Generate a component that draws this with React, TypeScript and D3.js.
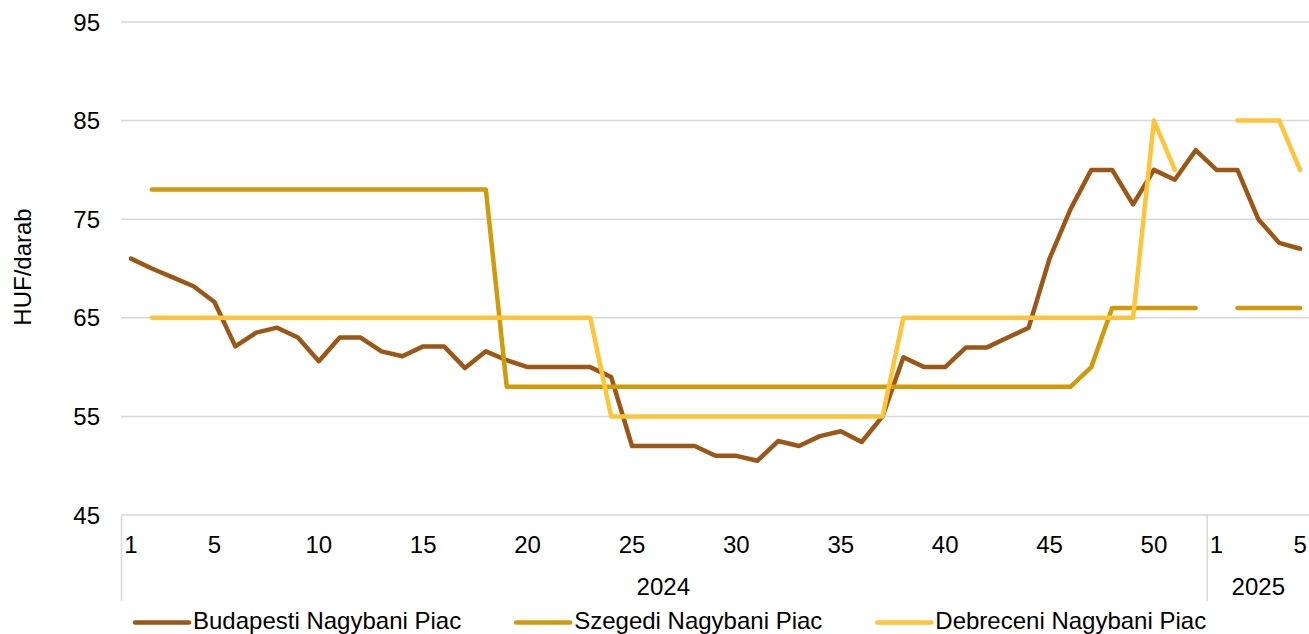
import React, { useEffect, useRef } from 'react';
import * as d3 from 'd3';

// week labels: 2024 weeks 1..52, then 2025 weeks 1..5
const weeks2024 = d3.range(1, 53);
const weeks2025 = d3.range(1, 6);
const years = ['2024', '2025'];
const shownWeekLabels = [1, 5, 10, 15, 20, 25, 30, 35, 40, 45, 50];
const yTicks = [45, 55, 65, 75, 85, 95];

const budapest: (number | null)[] = [
  71, 70, 69.1, 68.2, 66.6, 62.1, 63.5, 64, 63, 60.6,
  63, 63, 61.6, 61.1, 62.1, 62.1, 59.9, 61.6, 60.7, 60,
  60, 60, 60, 59, 52, 52, 52, 52, 51, 51,
  50.5, 52.5, 52, 53, 53.5, 52.4, 55, 61, 60, 60,
  62, 62, 63, 64, 71, 76, 80, 80, 76.5, 80,
  79, 82,
  80, 80, 75, 72.6, 72
];

const szeged: (number | null)[] = [
  null, 78, 78, 78, 78, 78, 78, 78, 78, 78,
  78, 78, 78, 78, 78, 78, 78, 78, 58, 58,
  58, 58, 58, 58, 58, 58, 58, 58, 58, 58,
  58, 58, 58, 58, 58, 58, 58, 58, 58, 58,
  58, 58, 58, 58, 58, 58, 60, 66, 66, 66,
  66, 66,
  null, 66, 66, 66, 66
];

const debrecen: (number | null)[] = [
  null, 65, 65, 65, 65, 65, 65, 65, 65, 65,
  65, 65, 65, 65, 65, 65, 65, 65, 65, 65,
  65, 65, 65, 55, 55, 55, 55, 55, 55, 55,
  55, 55, 55, 55, 55, 55, 55, 65, 65, 65,
  65, 65, 65, 65, 65, 65, 65, 65, 65, 85,
  80, null,
  null, 85, 85, 85, 80
];

const seriesNames = ['Budapesti Nagybani Piac', 'Szegedi Nagybani Piac', 'Debreceni Nagybani Piac'];
const seriesColors = ['#9C5716', '#D09A0B', '#FFC53A'];

const WIDTH = 1309;
const HEIGHT = 634;
const FONT = '"Liberation Sans", Arial, sans-serif';

export default function App() {
  const svgRef = useRef<SVGSVGElement>(null);

  useEffect(() => {
    document.body.style.margin = '0';
    if (!svgRef.current) return;
    const svg = d3.select(svgRef.current);
    svg.selectAll('*').remove();

    const cats = [
      ...weeks2024.map(w => ({ year: '2024', week: w })),
      ...weeks2025.map(w => ({ year: '2025', week: w }))
    ];
    const idx = cats.map((_, i) => i);

    const x = d3.scaleBand<number>().domain(idx).range([120.5, 1310.5]).padding(0);
    const cx = (i: number) => (x(i) as number) + x.bandwidth() / 2;
    const y = d3.scaleLinear().domain([45, 95]).range([515, 22]);

    const grid = svg.append('g');
    grid.selectAll('line')
      .data(yTicks)
      .enter()
      .append('line')
      .attr('x1', 121)
      .attr('x2', WIDTH)
      .attr('y1', d => y(d))
      .attr('y2', d => y(d))
      .attr('stroke', '#D9D9D9')
      .attr('stroke-width', 1.5);

    svg.append('g').selectAll('text')
      .data(yTicks)
      .enter()
      .append('text')
      .attr('x', 100)
      .attr('y', d => y(d) + 8.6)
      .attr('text-anchor', 'end')
      .attr('font-family', FONT)
      .attr('font-size', 24)
      .attr('fill', '#000')
      .text(d => d);

    svg.append('text')
      .attr('transform', `translate(31,267) rotate(-90)`)
      .attr('text-anchor', 'middle')
      .attr('font-family', FONT)
      .attr('font-size', 24)
      .attr('fill', '#000')
      .text('HUF/darab');

    // multi-level category axis
    const yearStart = (yr: string) => cats.findIndex(c => c.year === yr);
    const yearEnd = (yr: string) => cats.length - 1 - [...cats].reverse().findIndex(c => c.year === yr);
    const sepXs = [x(0) as number, x(yearStart('2025')) as number];
    svg.append('g').selectAll('line')
      .data(sepXs)
      .enter()
      .append('line')
      .attr('x1', d => d + 1)
      .attr('x2', d => d + 1)
      .attr('y1', y(45))
      .attr('y2', 601)
      .attr('stroke', '#D9D9D9')
      .attr('stroke-width', 1.5);

    const labelled = idx.filter(i => {
      const c = cats[i];
      return c.year === '2024' ? shownWeekLabels.includes(c.week) : (c.week === 1 || c.week === 5);
    });
    svg.append('g').selectAll('text')
      .data(labelled)
      .enter()
      .append('text')
      .attr('x', d => cx(d))
      .attr('y', 553)
      .attr('text-anchor', 'middle')
      .attr('font-family', FONT)
      .attr('font-size', 24)
      .attr('fill', '#000')
      .text(d => cats[d].week);

    svg.append('g').selectAll('text')
      .data(years)
      .enter()
      .append('text')
      .attr('x', d => ((x(yearStart(d)) as number) + (x(yearEnd(d)) as number) + x.bandwidth()) / 2)
      .attr('y', 595)
      .attr('text-anchor', 'middle')
      .attr('font-family', FONT)
      .attr('font-size', 24)
      .attr('fill', '#000')
      .text(d => d);

    // series lines
    const allSeries = [budapest, szeged, debrecen];
    const line = d3.line<number | null>()
      .defined(d => d != null)
      .x((_, i) => cx(i))
      .y(d => y(d as number));

    const lines = svg.append('g');
    allSeries.forEach((s, k) => {
      lines.append('path')
        .attr('d', line(s) as string)
        .attr('fill', 'none')
        .attr('stroke', seriesColors[k])
        .attr('stroke-width', 4.5)
        .attr('stroke-linejoin', 'round')
        .attr('stroke-linecap', 'round');
    });

    // legend
    const legend = svg.append('g');
    let lx = 135;
    seriesNames.forEach((name, k) => {
      legend.append('line')
        .attr('x1', lx)
        .attr('x2', lx + 54)
        .attr('y1', 622.5)
        .attr('y2', 622.5)
        .attr('stroke', seriesColors[k])
        .attr('stroke-width', 4.5)
        .attr('stroke-linecap', 'round');
      const t = legend.append('text')
        .attr('x', lx + 58)
        .attr('y', 628.5)
        .attr('font-family', FONT)
        .attr('font-size', 24)
        .attr('fill', '#000')
        .text(name);
      const w = (t.node() as SVGTextElement).getComputedTextLength();
      lx = lx + 58 + w + 55;
    });
  }, []);

  return (
    <svg
      ref={svgRef}
      width={WIDTH}
      height={HEIGHT}
      style={{ display: 'block', background: '#fff' }}
    />
  );
}
